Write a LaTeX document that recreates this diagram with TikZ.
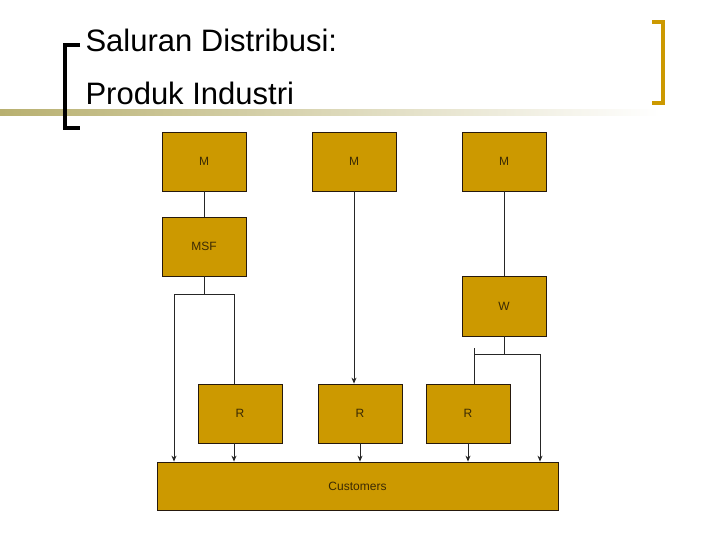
\documentclass[tikz,border=0pt]{standalone}
\usepackage{fontspec}
\setmainfont{Liberation Sans}
\begin{document}
\begin{tikzpicture}[x=1pt,y=-1pt,
 box/.style={draw=black!80!brown,fill=gold,line width=0.8pt,font=\fontsize{12}{14}\selectfont,text=txt,inner sep=0pt},
 ln/.style={line width=1pt,draw=black!85},
 ar/.style={ln,-{Stealth[length=6pt,width=5pt]}}]
\usetikzlibrary{arrows.meta}
\definecolor{gold}{HTML}{CC9900}
\definecolor{txt}{HTML}{3A2A05}
\definecolor{olive}{HTML}{B8B070}
\useasboundingbox (0,0) rectangle (720,540);
\fill[white] (0,0) rectangle (720,540);
\shade[left color=olive,right color=white] (0,110) rectangle (660,116);
\draw[line width=4pt] (80,45) -- (65,45) -- (65,128) -- (80,128);
\draw[gold,line width=4pt] (652,22) -- (663,22) -- (663,103) -- (652,103);
\node[anchor=base west,font=\fontsize{31}{36}\selectfont] (t1) at (82,52) {Saluran Distribusi:};
\node[anchor=base west,font=\fontsize{31}{36}\selectfont] (t2) at (82,105) {Produk Industri};
\node[box,minimum width=84pt,minimum height=59pt] (m1) at (204,161.5) {M};
\node[box,minimum width=84pt,minimum height=59pt] (m2) at (354,161.5) {M};
\node[box,minimum width=84pt,minimum height=59pt] (m3) at (504,161.5) {M};
\node[box,minimum width=84pt,minimum height=59pt] (msf) at (204,246.5) {MSF};
\node[box,minimum width=84pt,minimum height=60pt] (w) at (504,306) {W};
\node[box,minimum width=84pt,minimum height=59pt] (r1) at (240,413.5) {R};
\node[box,minimum width=84pt,minimum height=59pt] (r2) at (360,413.5) {R};
\node[box,minimum width=84pt,minimum height=59pt] (r3) at (468,413.5) {R};
\node[box,minimum width=401pt,minimum height=48pt] (c) at (357.5,486) {Customers};
\coordinate (a) at (204,294); \coordinate (aL) at (174,294); \coordinate (aR) at (234,294);
\coordinate (b) at (504,354); \coordinate (bL) at (474,354); \coordinate (bR) at (540,354); \coordinate (bT) at (474,348);
\draw[ln] (m1) -- (msf);
\draw[ln] (msf) -- (a);
\draw[ln] (aL) -- (aR);
\draw[ar] (aL) -- (aL |- c.north);
\draw[ln] (aR) -- (aR |- r1.north);
\draw[ar] (r1.south -| aR) -- (aR |- c.north);
\draw[ar] (m2) -- (m2 |- r2.north);
\draw[ar] (r2) -- (r2 |- c.north);
\draw[ln] (m3) -- (w);
\draw[ln] (w) -- (b);
\draw[ln] (bL) -- (bR);
\draw[ln] (bT) -- (bT |- r3.north);
\draw[ar] (bR) -- (bR |- c.north);
\draw[ar] (r3) -- (r3 |- c.north);
\end{tikzpicture}
\end{document}
